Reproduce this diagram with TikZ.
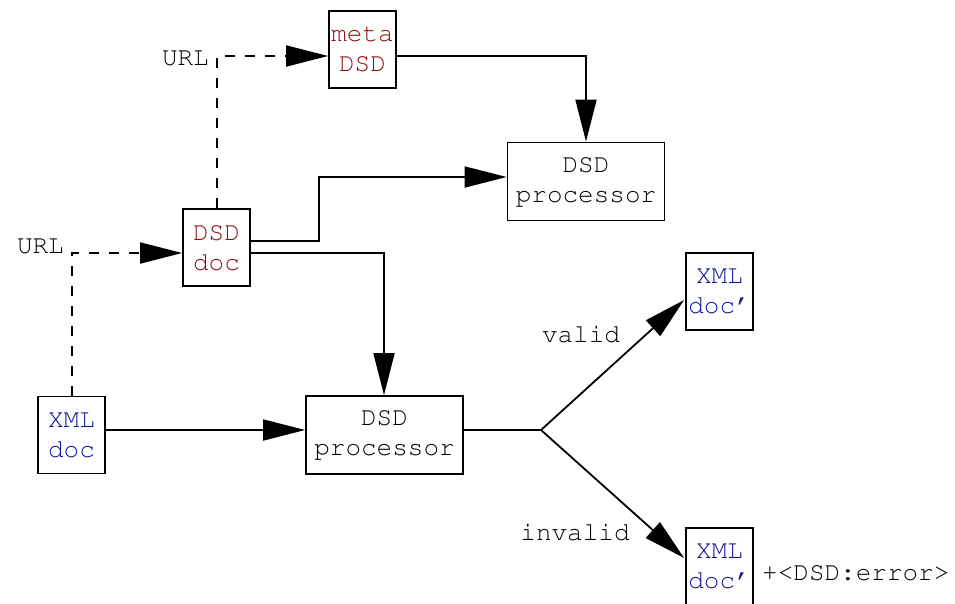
\documentclass[tikz,border=0pt]{standalone}
\usepackage[T1]{fontenc}
\usetikzlibrary{arrows.meta,calc}
\definecolor{dsdred}{RGB}{140,15,15}
\definecolor{xmlblue}{RGB}{20,20,150}
\newcommand{\courfont}{\fontencoding{T1}\fontfamily{pcr}\fontseries{m}\fontshape{n}\fontsize{26}{30}\selectfont}
\begin{document}
\begin{tikzpicture}[x=1pt,y=-1pt,
  font=\courfont,
  box/.style={draw,line width=1.8pt,align=center,inner sep=1pt,minimum width=67pt,minimum height=77pt},
  proc/.style={box,minimum width=157pt,minimum height=78pt},
  conn/.style={line width=1.8pt,-{Triangle[length=42pt,width=21pt]}},
  plain/.style={line width=1.8pt},
  dconn/.style={conn,dash pattern=on 10pt off 10pt},
  lbl/.style={inner sep=0pt}]
\useasboundingbox (0,0) rectangle (955,603);
\begin{scope}
\clip (0,0) rectangle (955,603);
\node[box,text=dsdred] (meta) at (362.5,49.5) {meta\\DSD};
\node[proc] (ptop) at (586,181.5) {DSD\\processor};
\node[box,text=dsdred] (dsd) at (216.5,247.5) {DSD\\doc};
\node[box,text=xmlblue] (xv) at (719.5,291.5) {XML\\doc'};
\node[box,text=xmlblue] (xml) at (71.5,435) {XML\\doc};
\node[proc] (pbot) at (384.5,435) {DSD\\processor};
\node[box,text=xmlblue] (xi) at (719.5,566.5) {XML\\doc'};
\end{scope}
\node[lbl,anchor=east] (url1) at (209,58) {URL};
\node[lbl,anchor=east] (url2) at (64,246) {URL};
\node[lbl] (valid) at (581,334) {valid};
\node[lbl] (invalid) at (575,532) {invalid};
\node[lbl,anchor=west] (err) at (762,573) {+<DSD:error>};
\coordinate (branch) at (541,430);
% dashed URL references
\draw[dconn] ($(dsd.north)+(0.5,0)$) |- ($(meta.west)+(0,6.5)$);
\draw[dconn] ($(xml.north)+(0.5,0)$) |- ($(dsd.west)+(0,5.5)$);
% solid connectors
\draw[conn] ($(meta.east)+(0,6.5)$) -| (ptop.north);
\draw[conn] ($(dsd.east)+(0,-6.5)$) -- ($(dsd.east)+(68,-6.5)$) |- ($(ptop.west)+(0,-4.5)$);
\draw[conn] ($(dsd.east)+(0,5.5)$) -| ($(pbot.north)+(-0.5,0)$);
\draw[conn] ($(xml.east)+(0,-5)$) -- ($(pbot.west)+(0,-5)$);
\draw[plain] ($(pbot.east)+(0,-5)$) -- (branch);
\draw[conn] (branch) -- ($(xv.west)+(-1,8.5)$);
\draw[conn] (branch) -- ($(xi.west)+(-1,-8.5)$);
\end{tikzpicture}
\end{document}
